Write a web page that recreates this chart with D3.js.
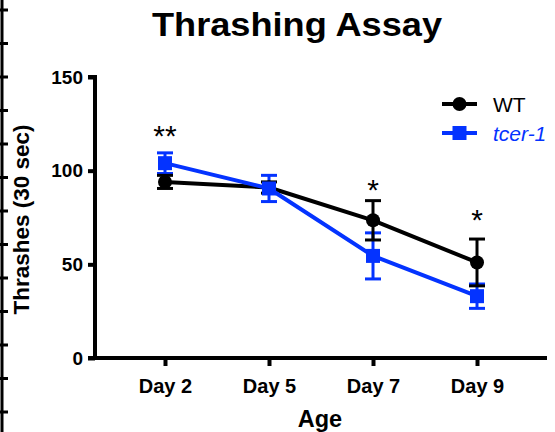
<!DOCTYPE html>
<html>
<head>
<meta charset="utf-8">
<script src="https://cdn.jsdelivr.net/npm/d3@7"></script>
<style>
  html, body { margin: 0; padding: 0; background: #fff; }
  svg { display: block; font-family: "Liberation Sans", Arial, Helvetica, sans-serif; }
</style>
</head>
<body>
<svg id="chart" width="555" height="432"></svg>
<script>
// ---- data ----
const categories = ["Day 2", "Day 5", "Day 7", "Day 9"];
const wtMean  = [94, 91, 73.5, 51];
const wtErr   = [3.5, 3, 10.5, 12.5];
const tcerMean = [104, 90.5, 54.5, 33];
const tcerErr  = [5.5, 7, 12.3, 6.5];
const sigLabels = ["**", "", "*", "*"];
const sigY      = [122.5, null, 93.5, 77.5];
const yTicks = [0, 50, 100, 150];
const seriesNames = ["WT", "tcer-1"];
// cropped neighbouring panel axis at the far left edge
const edgeTicks = [0,1,2,3,4,5,6,7,8,9,10,11,12];

const W = 555, H = 432;
const margin = {left: 95, right: 8, top: 77, bottom: 74};
const black = "#000000", blue = "#0433ff";

const svg = d3.select("#chart");

const x = d3.scalePoint().domain(categories).range([margin.left, W - margin.right]).padding(0.673);
const y = d3.scaleLinear().domain([0, 150]).range([H - margin.bottom, margin.top]);

// edge artifact
const ey = d3.scaleLinear().domain([0, 12]).range([10, 412]);
svg.append("line").attr("x1", 2).attr("x2", 2).attr("y1", 0).attr("y2", H)
  .attr("stroke", black).attr("stroke-width", 3);
svg.selectAll(".edgeTick").data(edgeTicks).enter().append("line")
  .attr("x1", 0).attr("x2", 8).attr("y1", d => ey(d)).attr("y2", d => ey(d))
  .attr("stroke", black).attr("stroke-width", 3);

// title
svg.append("text").attr("x", 297).attr("y", 36).attr("text-anchor", "middle")
  .attr("font-size", 33).attr("font-weight", "bold")
  .attr("textLength", 290).attr("lengthAdjust", "spacingAndGlyphs")
  .text("Thrashing Assay");

// y axis
const yAxis = d3.axisLeft(y).tickValues(yTicks).tickSize(7).tickPadding(5).tickFormat(d3.format("d"));
const gy = svg.append("g").attr("transform", `translate(${margin.left},0)`).call(yAxis);
gy.select(".domain").attr("stroke", black).attr("stroke-width", 4)
  .attr("d", `M-7,${y(150)}H0V${y(0)}`);
gy.selectAll(".tick line").attr("stroke-width", 4);
gy.selectAll(".tick text").attr("font-size", 19).attr("font-weight", "bold")
  .attr("font-family", "Liberation Sans, Arial, sans-serif").attr("fill", black);

// x axis
const xAxis = d3.axisBottom(x).tickSize(8).tickPadding(8);
const gx = svg.append("g").attr("transform", `translate(0,${y(0)})`).call(xAxis);
gx.select(".domain").attr("stroke", black).attr("stroke-width", 4)
  .attr("d", `M${margin.left - 7},0H${W - margin.right}`);
gx.selectAll(".tick line").attr("stroke-width", 4);
gx.selectAll(".tick text").attr("font-size", 20).attr("font-weight", "bold")
  .attr("font-family", "Liberation Sans, Arial, sans-serif").attr("fill", black)
  .attr("dy", "0.95em");

// axis titles
svg.append("text").attr("x", (margin.left + W - margin.right) / 2 - 1).attr("y", 427)
  .attr("text-anchor", "middle").attr("font-size", 23.5).attr("font-weight", "bold").text("Age");
svg.append("text")
  .attr("transform", `translate(29,${(y(0) + y(150)) / 2 + 2}) rotate(-90)`)
  .attr("text-anchor", "middle").attr("font-size", 22.5).attr("font-weight", "bold")
  .text("Thrashes (30 sec)");

const series = [
  {name: seriesNames[0], mean: wtMean, err: wtErr, color: black, shape: "circle"},
  {name: seriesNames[1], mean: tcerMean, err: tcerErr, color: blue, shape: "square"}
];

function drawErr(s) {
  const g = svg.append("g");
  categories.forEach((c, i) => {
    const cx = x(c), top = y(s.mean[i] + s.err[i]), bot = y(s.mean[i] - s.err[i]);
    g.append("line").attr("x1", cx).attr("x2", cx).attr("y1", top).attr("y2", bot)
      .attr("stroke", s.color).attr("stroke-width", 3);
    [top, bot].forEach(yy => g.append("line").attr("x1", cx - 8).attr("x2", cx + 8)
      .attr("y1", yy).attr("y2", yy).attr("stroke", s.color).attr("stroke-width", 3));
  });
}
function drawLine(s) {
  const line = d3.line().x((d, i) => x(categories[i])).y(d => y(d));
  svg.append("path").datum(s.mean).attr("d", line).attr("fill", "none")
    .attr("stroke", s.color).attr("stroke-width", 4).attr("stroke-linejoin", "round");
}
function marker(g, s, cx, cy) {
  if (s.shape === "circle") {
    g.append("circle").attr("cx", cx).attr("cy", cy).attr("r", 7).attr("fill", s.color);
  } else {
    g.append("rect").attr("x", cx - 7).attr("y", cy - 7).attr("width", 14).attr("height", 14).attr("fill", s.color);
  }
}
function drawMarkers(s) {
  const g = svg.append("g");
  categories.forEach((c, i) => marker(g, s, x(c), y(s.mean[i])));
}

drawErr(series[1]);
drawErr(series[0]);
drawLine(series[0]);
drawLine(series[1]);
drawMarkers(series[0]);
drawMarkers(series[1]);

// significance
categories.forEach((c, i) => {
  if (!sigLabels[i]) return;
  svg.append("text").attr("x", x(c)).attr("y", y(sigY[i]) + 17)
    .attr("text-anchor", "middle").attr("font-size", 30).text(sigLabels[i]);
});

// legend
const legend = svg.append("g");
series.forEach((s, i) => {
  const ly = 104 + i * 29;
  legend.append("line").attr("x1", 442).attr("x2", 477).attr("y1", ly).attr("y2", ly)
    .attr("stroke", s.color).attr("stroke-width", 4);
  marker(legend, s, 459.5, ly);
  legend.append("text").attr("x", 493).attr("y", ly).attr("dy", "0.36em")
    .attr("font-size", 21).attr("fill", s.color)
    .attr("font-style", i === 1 ? "italic" : "normal").text(s.name);
});
</script>
</body>
</html>
